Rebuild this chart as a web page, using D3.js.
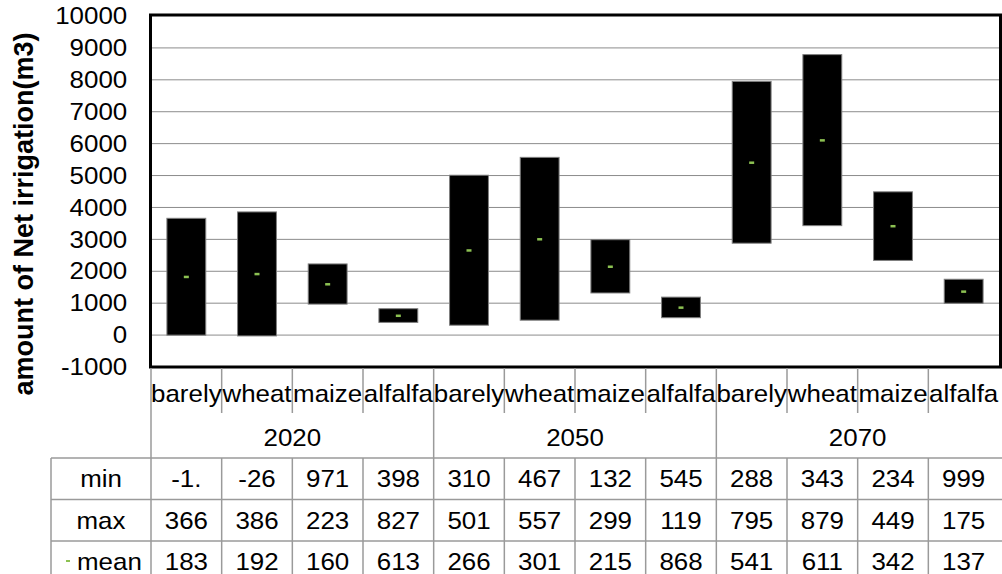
<!DOCTYPE html>
<html>
<head>
<meta charset="utf-8">
<script src="https://cdn.jsdelivr.net/npm/d3@7"></script>
<style>
  body { margin: 0; background: #fff; }
  svg { display: block; font-family: "Liberation Sans", Arial, sans-serif; }
</style>
</head>
<body>
<div id="chart"></div>
<script>
const crops = ['barely', 'wheat', 'maize', 'alfalfa'];
const years = ['2020', '2050', '2070'];
const minVals = [-1.2, -26.4, 971, 398, 310, 467, 1320, 545, 2880, 3430, 2340, 999];
const maxVals = [3660, 3860, 2230, 827, 5010, 5570, 2990, 1190, 7950, 8790, 4490, 1750];
const meanVals = [1830, 1920, 1600, 613, 2660, 3010, 2150, 868, 5410, 6110, 3420, 1370];
const yTicks = d3.range(-1000, 10001, 1000);
const rowNames = ['min', 'max', 'mean'];

const width = 1002, height = 574;
const plotLeft = 151, plotRight = 999, plotTop = 16, plotBottom = 367;
const sx = 1.08; // the picture is a bit stretched sideways
const fs = 24;

const svg = d3.select('#chart').append('svg')
  .attr('width', width)
  .attr('height', height);

const cats = d3.range(years.length * crops.length);
const x = d3.scaleBand().domain(cats).range([plotLeft, plotRight]);
const y = d3.scaleLinear().domain([-1000, 10000]).range([plotBottom, plotTop]);
const bw = x.bandwidth() * 0.55;

// text helper, stretched a little to match the reference
const label = (g, tx, ty, str, anchor) => g.append('text')
  .attr('transform', `translate(${tx},${ty}) scale(${sx},1)`)
  .attr('text-anchor', anchor || 'middle')
  .attr('font-size', fs)
  .attr('fill', '#000')
  .text(str);

// gridlines
svg.append('g')
  .selectAll('line')
  .data(yTicks.filter(d => d > -1000 && d < 10000))
  .join('line')
  .attr('x1', plotLeft).attr('x2', plotRight)
  .attr('y1', d => y(d)).attr('y2', d => y(d))
  .attr('stroke', '#8c8c8c')
  .attr('stroke-width', 1);

// y axis labels
const yAxis = svg.append('g')
  .attr('transform', `translate(${plotLeft},0)`)
  .call(d3.axisLeft(y).tickValues(yTicks).tickSize(0).tickFormat(d => String(d)));
yAxis.select('.domain').remove();
yAxis.selectAll('text')
  .attr('font-size', fs)
  .attr('font-family', '"Liberation Sans", Arial, sans-serif')
  .attr('fill', '#000')
  .attr('x', -22)
  .attr('transform', `scale(${sx},1)`);

// y title
svg.append('text')
  .attr('transform', `translate(33,214) rotate(-90)`)
  .attr('text-anchor', 'middle')
  .attr('font-size', 27)
  .attr('font-weight', 'bold')
  .attr('fill', '#000')
  .text('amount of Net irrigation(m3)');

// range bars (min to max)
svg.append('g')
  .selectAll('rect')
  .data(cats)
  .join('rect')
  .attr('x', i => x(i) + (x.bandwidth() - bw) / 2)
  .attr('y', i => y(maxVals[i]))
  .attr('width', bw)
  .attr('height', i => y(minVals[i]) - y(maxVals[i]))
  .attr('fill', '#000')
  .attr('stroke', '#7f7f7f')
  .attr('stroke-width', 1);

// mean markers
svg.append('g')
  .selectAll('rect')
  .data(cats)
  .join('rect')
  .attr('x', i => x(i) + x.bandwidth() / 2 - 2.5)
  .attr('y', i => y(meanVals[i]) - 1)
  .attr('width', 5)
  .attr('height', 2.5)
  .attr('fill', '#8cc152');

// plot frame
svg.append('rect')
  .attr('x', plotLeft - 0.5).attr('y', plotTop - 1)
  .attr('width', plotRight - plotLeft + 2).attr('height', plotBottom - plotTop + 1)
  .attr('fill', 'none')
  .attr('stroke', '#000')
  .attr('stroke-width', 3);

// category axis: crops, then years
const tableTop = 458, rowH = 41.5;
const grid = svg.append('g').attr('stroke', '#9a9a9a').attr('stroke-width', 1.5);
cats.forEach(i => {
  const xi = x(i);
  const groupEdge = i % crops.length === 0;
  grid.append('line')
    .attr('x1', xi).attr('x2', xi)
    .attr('y1', plotBottom + 1).attr('y2', groupEdge ? tableTop : 413);
  label(svg, xi + x.bandwidth() / 2, 402, crops[i % crops.length]);
});
years.forEach((yr, j) => {
  const x0 = x(j * crops.length), x1 = x0 + x.bandwidth() * crops.length;
  label(svg, (x0 + x1) / 2, 446, yr);
});

// data table
const tableLeft = 51;
[0, 1, 2].forEach(r => {
  grid.append('line')
    .attr('x1', tableLeft).attr('x2', width)
    .attr('y1', tableTop + r * rowH).attr('y2', tableTop + r * rowH);
});
grid.append('line')
  .attr('x1', tableLeft).attr('x2', tableLeft)
  .attr('y1', tableTop).attr('y2', height);
cats.forEach(i => {
  grid.append('line')
    .attr('x1', x(i)).attr('x2', x(i))
    .attr('y1', tableTop).attr('y2', height);
});

const rows = [minVals, maxVals, meanVals];
rows.forEach((vals, r) => {
  const by = tableTop + r * rowH + 29;
  if (r === 2) {
    svg.append('rect')
      .attr('x', 66).attr('y', by - 10)
      .attr('width', 4).attr('height', 2)
      .attr('fill', '#8cc152');
    label(svg, 77, by, rowNames[r], 'start');
  } else {
    label(svg, (tableLeft + plotLeft) / 2, by, rowNames[r]);
  }
  // cells are narrow, so the numbers get cut to three characters
  vals.forEach((v, i) => {
    label(svg, x(i) + x.bandwidth() / 2, by, String(v).slice(0, 3));
  });
});
</script>
</body>
</html>
